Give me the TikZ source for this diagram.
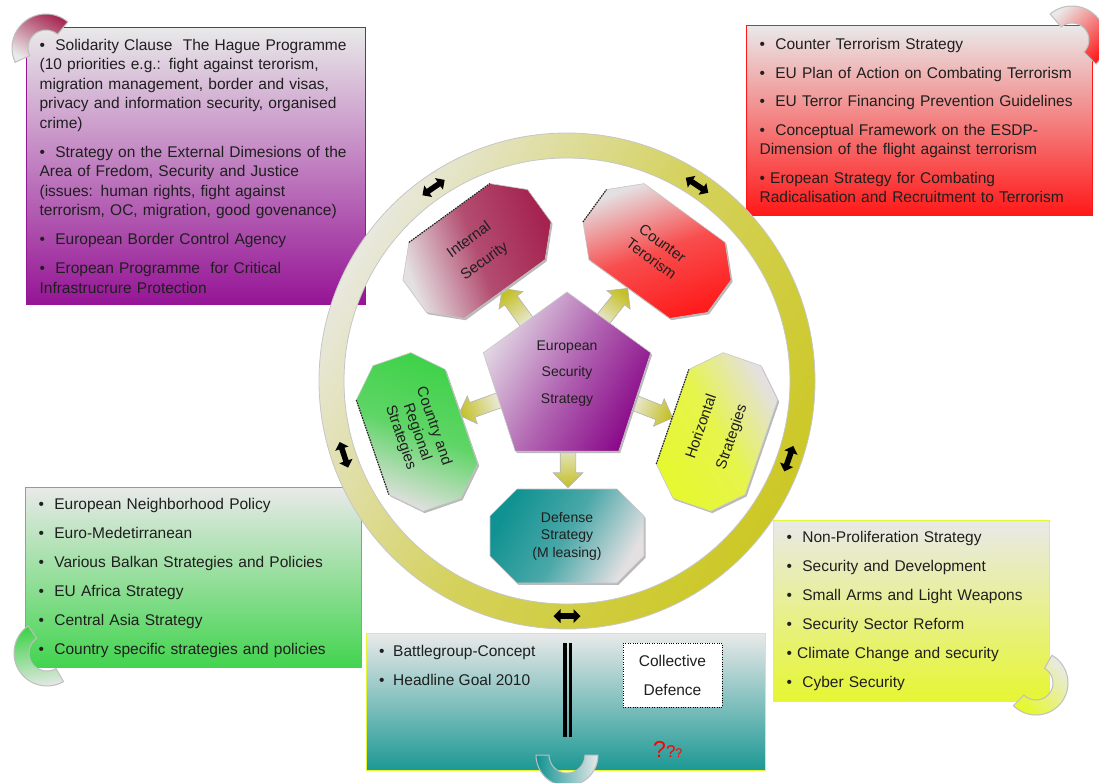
\documentclass[tikz,border=0pt]{standalone}
\usepackage{fontspec}
\setmainfont{Liberation Sans}
\usetikzlibrary{shapes.geometric,shapes.arrows}

\definecolor{paleg}{RGB}{233,233,233}
\definecolor{ringlight}{RGB}{232,232,222}
\definecolor{ringolive}{RGB}{204,200,38}
\definecolor{arrowlight}{RGB}{236,236,226}
\definecolor{arrowolive}{RGB}{196,192,40}
\definecolor{esspurple}{RGB}{138,10,138}
\definecolor{esslight}{RGB}{226,216,228}
\definecolor{intcrimson}{RGB}{165,35,80}
\definecolor{ctrred}{RGB}{255,28,28}
\definecolor{reggreen}{RGB}{62,210,72}
\definecolor{horyellow}{RGB}{230,248,48}
\definecolor{defteal}{RGB}{16,146,146}
\definecolor{octlight}{RGB}{228,224,226}
\definecolor{boxpurple}{RGB}{150,20,150}
\definecolor{boxred}{RGB}{255,24,24}
\definecolor{boxgreen}{RGB}{66,212,78}
\definecolor{boxyellow}{RGB}{230,246,50}
\definecolor{boxteal}{RGB}{28,152,148}

\newcommand{\octpath}{(-50,47) -- (50,47) -- (77,20) -- (77,-20) -- (50,-47) -- (-50,-47) -- (-77,-20) -- (-77,20) -- cycle}
\newcommand{\ringpiece}[5]{([shift={(#2:#4)}]#1) arc[start angle=#2, end angle=#3, radius=#4] -- ([shift={(#3:#5)}]#1) arc[start angle=#3, end angle=#2, radius=#5] -- cycle}

\begin{document}
\begin{tikzpicture}[x=1pt, y=1pt,
  listfont/.style={font=\fontsize{15.5}{19.5}\selectfont, text=black!88},
  listbox/.style={listfont, line width=1.2pt, anchor=north west, align=left,
    inner xsep=13pt, inner ysep=0pt},
  octbody/.style={draw=gray!45, line width=0.6pt,
    preaction={fill=gray!55, transform canvas={shift={(1.5pt,-1.8pt)}}}},
  octtext/.style={transform shape, align=center, inner sep=0pt, text=black!88},
  dashedge/.style={black!85, line width=1.2pt, dash pattern=on 1.6pt off 1pt},
  blockarrow/.style={single arrow, draw=gray!60, line width=0.6pt,
    minimum height=46pt, inner xsep=0pt, inner ysep=7.5pt,
    single arrow head extend=7pt, anchor=tip,
    top color=arrowolive, bottom color=arrowlight},
  ringarrow/.style={double arrow, fill=black, minimum height=27pt,
    inner xsep=0pt, inner ysep=2.6pt, double arrow head extend=4.2pt},
  piece/.style={draw=gray!50, line width=1pt}
]
\useasboundingbox (0,0) rectangle (1099,-782);

% --- Boxes ---
\node[listbox, draw=boxpurple, top color=paleg, bottom color=boxpurple,
  text width=313pt, minimum height=277pt] (jhabox) at (26,-27) {%
•\ \ Solidarity Clause\ \ The Hague Programme\\
(10 priorities e.g.: fight against terorism,\\
migration management, border and visas,\\
privacy and information security, organised\\
crime)\\[9.5pt]
•\ \ Strategy on the External Dimesions of the\\
Area of Fredom, Security and Justice\\
(issues: human rights, fight against\\
terrorism, OC, migration, good govenance)\\[9.5pt]
•\ \ European Border Control Agency\\[9.5pt]
•\ \ Eropean Programme\ \ for Critical\\
Infrastrucrure Protection};

\node[listbox, draw=boxred, top color=paleg, bottom color=boxred,
  text width=320pt, minimum height=190pt] (ctbox) at (746,-25) {%
•\ \ Counter Terrorism Strategy\\[9pt]
•\ \ EU Plan of Action on Combating Terrorism\\[9pt]
•\ \ EU Terror Financing Prevention Guidelines\\[9pt]
•\ \ Conceptual Framework on the ESDP-\\
Dimension of the flight against terrorism\\[9pt]
•\ Eropean Strategy for Combating\\
Radicalisation and Recruitment to Terrorism};

\node[listbox, draw=boxgreen, top color=paleg, bottom color=boxgreen,
  text width=310pt, minimum height=180pt] (regbox) at (25,-487) {%
•\ \ European Neighborhood Policy\\[9.5pt]
•\ \ Euro-Medetirranean\\[9.5pt]
•\ \ Various Balkan Strategies and Policies\\[9.5pt]
•\ \ EU Africa Strategy\\[9.5pt]
•\ \ Central Asia Strategy\\[9.5pt]
•\ \ Country specific strategies and policies};

\node[listbox, draw=boxyellow, top color=paleg, bottom color=boxyellow,
  text width=250pt, minimum height=181pt] (horbox) at (773,-520) {%
•\ \ Non-Proliferation Strategy\\[9.5pt]
•\ \ Security and Development\\[9.5pt]
•\ \ Small Arms and Light Weapons\\[9.5pt]
•\ \ Security Sector Reform\\[9.5pt]
•\ Climate Change and security\\[9.5pt]
•\ \ Cyber Security};

\node[draw=boxyellow, line width=1.2pt, top color=paleg, bottom color=boxteal,
  minimum width=399pt, minimum height=137pt, anchor=north west] (defbox) at (366,-633) {};
\node[listfont, align=left, inner sep=0pt, anchor=north west] (deflist) at (379,-645) {%
•\ \ Battlegroup-Concept\\[9.5pt]
•\ \ Headline Goal 2010};
\draw[line width=3.2pt] (565,-643) -- (565,-737);
\draw[line width=2.2pt] (570.5,-643) -- (570.5,-737);
\node[listfont, draw=black, dotted, fill=white, align=center, inner sep=0pt,
  minimum width=99pt, minimum height=64pt] (colldef) at (672.5,-675) {Collective\\[9.5pt]Defence};
\node[anchor=base west, text=red, inner sep=0pt] (doubt) at (653,-757)
  {\fontsize{23}{23}\selectfont ?\fontsize{17}{17}\selectfont ?\fontsize{12.5}{12.5}\selectfont ?};

% --- Ring ---
\coordinate (hub) at (567,-381);
\shade[even odd rule, top color=ringolive, bottom color=ringlight,
  middle color=ringolive!70!ringlight, shading angle=-120]
  (hub) circle[radius=248] (hub) circle[radius=223];
\draw[gray!45, line width=0.8pt] (hub) circle[radius=248] (hub) circle[radius=223];
\foreach \ang/\nm in {124.6/nw, 56.4/ne, 198.3/w, -19.3/e, -90/s}
  \node[ringarrow, rotate=\ang+90] (link-\nm) at ([shift={(\ang:235)}]hub) {};

% --- Block arrows ---
\node[blockarrow, rotate=126, shading angle=36] (to-int) at (502,-288) {};
\node[blockarrow, rotate=51.6, shading angle=-38.4] (to-ctr) at (628,-288) {};
\node[blockarrow, rotate=199.7, shading angle=109.7] (to-reg) at (458,-415) {};
\node[blockarrow, rotate=-21.3, shading angle=-111.3] (to-hor) at (673,-418) {};
\node[blockarrow, rotate=-90, shading angle=-180] (to-def) at (568,-488) {};

% --- Centre ---
\node[octbody, regular polygon, regular polygon sides=5, minimum size=176pt, inner sep=0pt,
  top color=esspurple, bottom color=esslight, middle color=esspurple!55!esslight,
  shading angle=-120] (ess) at (567,-380) {};
\node[align=center, font=\fontsize{14}{26.5}\selectfont, text=black!88] (esslabel) at (567,-373.5)
  {European\\Security\\Strategy};

% --- Octagons ---
\begin{scope}[shift={(477,-251)}, rotate=36]
  \shade[octbody, top color=intcrimson, bottom color=octlight,
    middle color=intcrimson!78!octlight, shading angle=-70] \octpath;
  \draw[dashedge] (-50,47) -- (50,47);
  \node[octtext, font=\fontsize{15}{26}\selectfont] (intsec) {Internal\\Security};
\end{scope}
\begin{scope}[shift={(657,-251)}, rotate=-36]
  \shade[octbody, top color=ctrred, bottom color=octlight,
    middle color=ctrred!75!octlight, shading angle=-160] \octpath;
  \draw[dashedge] (-77,-20) -- (-77,20);
  \node[octtext, font=\fontsize{15}{19}\selectfont] (ctrter) {Counter\\Terorism};
\end{scope}
\begin{scope}[shift={(417,-432)}, rotate=-71]
  \shade[octbody, top color=reggreen, bottom color=octlight,
    middle color=reggreen!80!octlight, shading angle=-20] \octpath;
  \draw[dashedge] (-50,-47) -- (50,-47);
  \node[octtext, font=\fontsize{15}{17.5}\selectfont] (regstr) {Country and\\Regional\\Strategies};
\end{scope}
\begin{scope}[shift={(717,-432)}, rotate=71]
  \shade[octbody, top color=horyellow, bottom color=octlight,
    middle color=horyellow!85!octlight, shading angle=120] \octpath;
  \draw[dashedge] (-50,47) -- (50,47);
  \node[octtext, font=\fontsize{15}{32}\selectfont] (horstr) {Horizontal\\Strategies};
\end{scope}
\begin{scope}[shift={(567,-536)}]
  \shade[octbody, top color=defteal, bottom color=octlight,
    middle color=defteal!72!octlight, shading angle=60] \octpath;
  \node[octtext, font=\fontsize{14}{17.5}\selectfont] (defstr) {Defense\\Strategy\\(M leasing)};
\end{scope}

% --- Corner pieces ---
\shade[piece, top color=intcrimson, bottom color=paleg, shading angle=-30] \ringpiece{46,-48}{50}{205}{34}{18};
\shade[piece, top color=ctrred, bottom color=paleg, shading angle=-135] \ringpiece{1072,-40}{130}{-45}{34}{17};
\shade[piece, top color=reggreen, bottom color=paleg, shading angle=10] \ringpiece{47,-653}{125}{300}{33}{18};
\shade[piece, top color=horyellow, bottom color=paleg, shading angle=135] \ringpiece{1036,-683}{60}{-135}{32}{17};
\shade[piece, top color=defteal, bottom color=paleg, shading angle=90] \ringpiece{567,-755}{180}{360}{31}{18};

\end{tikzpicture}
\end{document}
